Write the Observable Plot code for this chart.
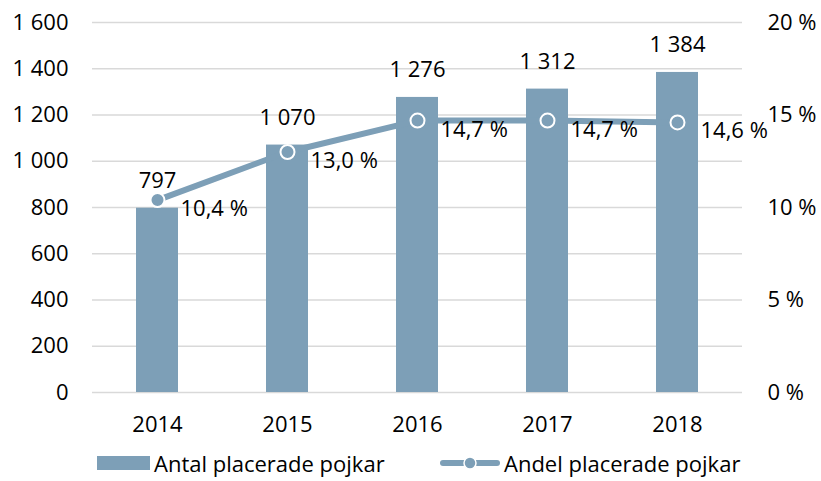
<!DOCTYPE html>
<html><head><meta charset="utf-8">
<script src="https://cdn.jsdelivr.net/npm/d3@7"></script>
<script src="https://cdn.jsdelivr.net/npm/@observablehq/plot@0.6"></script>
<style>
body{margin:0;background:#fff;font-family:"Open Sans",sans-serif;}
#legend{position:relative;height:36px;font-size:22px;color:#000}
.item{position:absolute;top:0;display:flex;align-items:center;gap:4px;height:36px}
</style></head><body>
<div id="chart"></div>
<div id="legend">
 <div class="item" style="left:97px"><svg width="53" height="16"><rect x="0" y="1" width="53" height="14" fill="#7d9fb7"/></svg><span>Antal placerade pojkar</span></div>
 <div class="item" style="left:440px"><svg width="60" height="16"><line x1="3" x2="57" y1="8" y2="8" stroke="#7d9fb7" stroke-width="6" stroke-linecap="round"/><circle cx="30" cy="8" r="6" fill="#7d9fb7" stroke="#fff" stroke-width="1.5"/></svg><span>Andel placerade pojkar</span></div>
</div>
<script>
const years = ["2014","2015","2016","2017","2018"];
const antal = [797, 1070, 1276, 1312, 1384];
const andel = [10.4, 13.0, 14.7, 14.7, 14.6];
const leftTicks = [0,200,400,600,800,1000,1200,1400,1600];
const rightTicks = [0,5,10,15,20];
const color = "#7d9fb7";
const k = 1600/20;
const data = years.map((y,i)=>({year:y, antal:antal[i], andel:andel[i], andelY:andel[i]*k}));
const fmtN = n => { const s = String(n); return s.length>3 ? s.slice(0,-3)+" "+s.slice(-3) : s; };
const fmtP = p => p.toFixed(1).replace(".",",")+" %";
const fs = 22;
const chart = Plot.plot({
  width: 821, height: 445,
  marginTop: 22, marginBottom: 53, marginLeft: 92, marginRight: 79,
  style:{fontFamily:"'Open Sans',sans-serif", fontSize:fs+"px", color:"#000", background:"#fff"},
  x:{domain:years, paddingInner:0.68, paddingOuter:0.34, label:null},
  y:{domain:[0,1600], label:null},
  marks:[
    Plot.ruleY(leftTicks, {stroke:"#d9d9d9", strokeWidth:1.5}),
    Plot.axisY(leftTicks, {anchor:"left", tickSize:0, tickPadding:24, tickFormat:fmtN, label:null, fontSize:fs}),
    Plot.axisY(rightTicks.map(t=>t*k), {anchor:"right", tickSize:0, tickPadding:25, tickFormat:d=>(d/k)+" %", label:null, fontSize:fs, textAnchor:"start"}),
    Plot.axisX({tickSize:0, tickPadding:24, label:null, fontSize:fs}),
    Plot.barY(data, {x:"year", y:"antal", fill:color}),
    Plot.text(data, {x:"year", y:"antal", text:d=>fmtN(d.antal), dy:-27, fontSize:fs}),
    Plot.line(data, {x:"year", y:"andelY", stroke:color, strokeWidth:6}),
    Plot.dot(data, {x:"year", y:"andelY", r:7, fill:color, stroke:"#fff", strokeWidth:2}),
    Plot.text(data, {x:"year", y:"andelY", text:d=>fmtP(d.andel), dx:23, dy:9, textAnchor:"start", fontSize:fs})
  ]
});
document.getElementById("chart").append(chart);
</script>
</body></html>
